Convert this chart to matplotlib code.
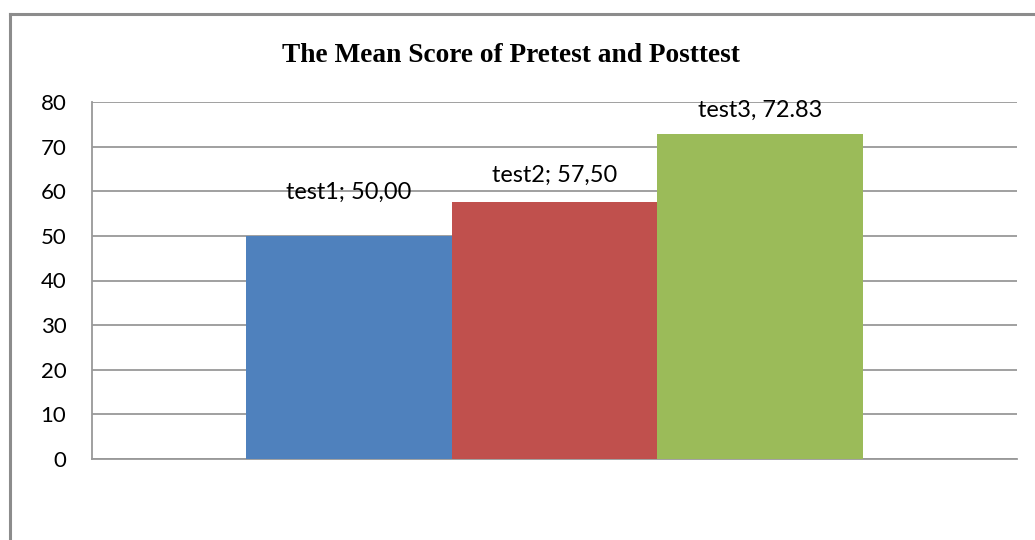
import numpy as np
import matplotlib.pyplot as plt
from matplotlib.lines import Line2D

# data
names = ["test1", "test2", "test3"]
scores = [50.00, 57.50, 72.83]
labels = ["test1; 50,00", "test2; 57,50", "test3, 72.83"]
yticks = [0, 10, 20, 30, 40, 50, 60, 70, 80]

colors = ["#4F81BD", "#C0504D", "#9BBB59"]
label_pad = [26.5, 14.5, 12]  # points above bar top (as placed in the original)

fig = plt.figure(figsize=(10.35, 5.4), dpi=100)
ax = fig.add_axes([92 / 1035, 1 - 459 / 540, (1017 - 92) / 1035, (459 - 102) / 540])

x = np.arange(len(names))
ax.bar(x, scores, width=1.0, color=colors, zorder=3)

for xi, s, lab, pad in zip(x, scores, labels, label_pad):
    ax.annotate(lab, (xi, s), xytext=(0, pad), textcoords="offset points",
                ha="center", va="baseline", fontsize=16.9, family="Lato", zorder=4)

ax.set_xlim(-1.25, 3.25)
ax.set_ylim(0, 80)
ax.set_yticks(yticks)
ax.set_xticks([])
ax.tick_params(axis="y", length=0, pad=18.5, labelsize=16)
for t in ax.get_yticklabels():
    t.set_family("Lato")

ax.grid(axis="y", color="#999999", linewidth=1.3, zorder=0)
for side in ["top", "right"]:
    ax.spines[side].set_visible(False)
for side in ["left", "bottom"]:
    ax.spines[side].set_color("#999999")
    ax.spines[side].set_linewidth(1.3)

# title
fig.text(511 / 1035, 1 - 62.3 / 540, "The Mean Score of Pretest and Posttest",
         ha="center", va="baseline", fontsize=19.7, fontweight="bold",
         family="Liberation Serif")

# chart border (only top and left show in the crop)
fig.add_artist(Line2D([10 / 1035, 1.0], [1 - 14 / 540, 1 - 14 / 540],
                      transform=fig.transFigure, color="#8c8c8c", linewidth=2.2))
fig.add_artist(Line2D([10 / 1035, 10 / 1035], [1 - 14 / 540, 0.0],
                      transform=fig.transFigure, color="#8c8c8c", linewidth=2.2))

fig.savefig("out.png", dpi=100)
